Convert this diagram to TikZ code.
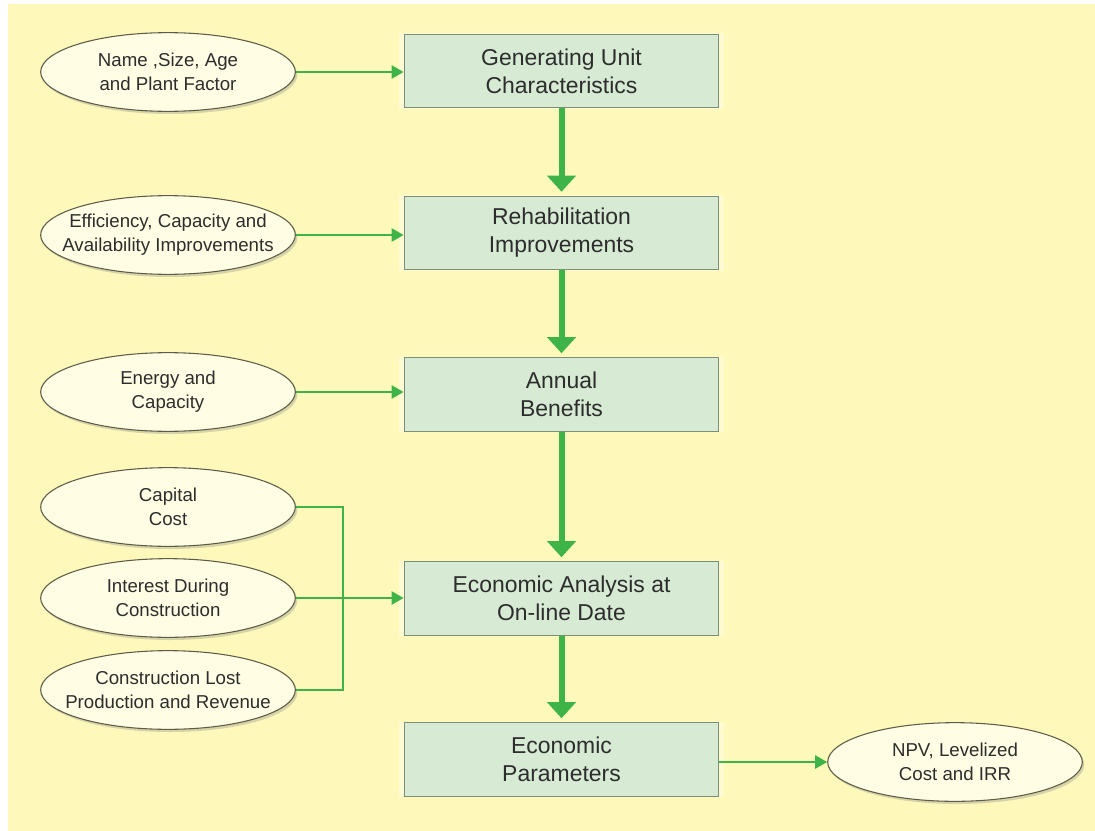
\documentclass[tikz,border=0pt]{standalone}
\usepackage{fontspec}
\setmainfont{Liberation Sans}
\usetikzlibrary{shapes.geometric,arrows.meta,shadows}

\definecolor{bgyellow}{RGB}{254,248,186}
\definecolor{boxfill}{RGB}{214,234,212}
\definecolor{boxline}{RGB}{122,142,122}
\definecolor{ovalfill}{RGB}{255,253,228}
\definecolor{ovalline}{RGB}{92,92,72}
\definecolor{flowgreen}{RGB}{62,180,72}
\definecolor{txtgray}{RGB}{45,45,45}

\tikzset{every picture/.style={line width=0.75pt}}
\tikzset{
  stagebox/.style={draw=boxline, fill=boxfill, line width=0.9pt,
    minimum width=236pt, minimum height=55pt, align=center,
    font=\fontsize{17.2}{21}\selectfont, text=txtgray,
    general shadow={fill=white, opacity=0.35, shadow scale=1.03}},
  inputoval/.style={ellipse, draw=ovalline, fill=ovalfill, line width=0.8pt,
    minimum width=191pt, minimum height=59pt, inner xsep=-16pt, inner ysep=0pt,
    align=center, font=\fontsize{14}{18}\selectfont, text=txtgray,
    drop shadow={opacity=0.3, shadow xshift=1.5pt, shadow yshift=-2pt}},
  feedline/.style={draw=flowgreen, line width=1.2pt,
    -{Triangle[length=9pt,width=10pt]}},
  bracketline/.style={draw=flowgreen, line width=1.2pt},
  mainflow/.style={draw=flowgreen, line width=4.5pt, shorten >=3pt,
    -{Triangle[length=12pt,width=21pt]}}
}

\begin{document}
\begin{tikzpicture}[x=0.75pt,y=0.75pt,yscale=-1,xscale=1]
%set diagram size to 1095 x 831
\useasboundingbox (0,0) rectangle (1095,831);
\fill [bgyellow] (8,4) rectangle (1095,831);

% Process boxes
\node [stagebox] (unit) at (561.5,71) {Generating Unit\\Characteristics};
\node [stagebox] (rehab) at (561.5,233) {Rehabilitation\\Improvements};
\node [stagebox] (benefit) at (561.5,394.5) {Annual\\Benefits};
\node [stagebox] (econ) at (561.5,598.5) {Economic Analysis at\\On-line Date};
\node [stagebox] (param) at (561.5,759.5) {Economic\\Parameters};

% Input ovals
\node [inputoval] (name) at (168,72) {Name ,Size, Age\\and Plant Factor};
\node [inputoval] (effic) at (168,235) {Efficiency, Capacity and\\Availability Improvements};
\node [inputoval] (energy) at (168,392) {Energy and\\Capacity};
\node [inputoval] (capital) at (168,507) {Capital\\Cost};
\node [inputoval] (interest) at (168,598) {Interest During\\Construction};
\node [inputoval] (lost) at (168,690) {Construction Lost\\Production and Revenue};
% Output oval
\node [inputoval] (npv) at (955,762) {NPV, Levelized\\Cost and IRR};

% Main flow
\draw [mainflow] (unit) -- (rehab);
\draw [mainflow] (rehab) -- (benefit);
\draw [mainflow] (benefit) -- (econ);
\draw [mainflow] (econ) -- (param);

% Inputs
\draw [feedline] (name.east) -- (name.east -| unit.west);
\draw [feedline] (effic.east) -- (effic.east -| rehab.west);
\draw [feedline] (energy.east) -- (energy.east -| benefit.west);
\draw [feedline] (interest.east) -- (interest.east -| econ.west);
\draw [feedline] (param.east |- npv) -- (npv.west);

% Cost bracket
\coordinate (costbus) at (343,507);
\draw [bracketline] (capital.east) -- (costbus) |- (lost.east);

\end{tikzpicture}
\end{document}
